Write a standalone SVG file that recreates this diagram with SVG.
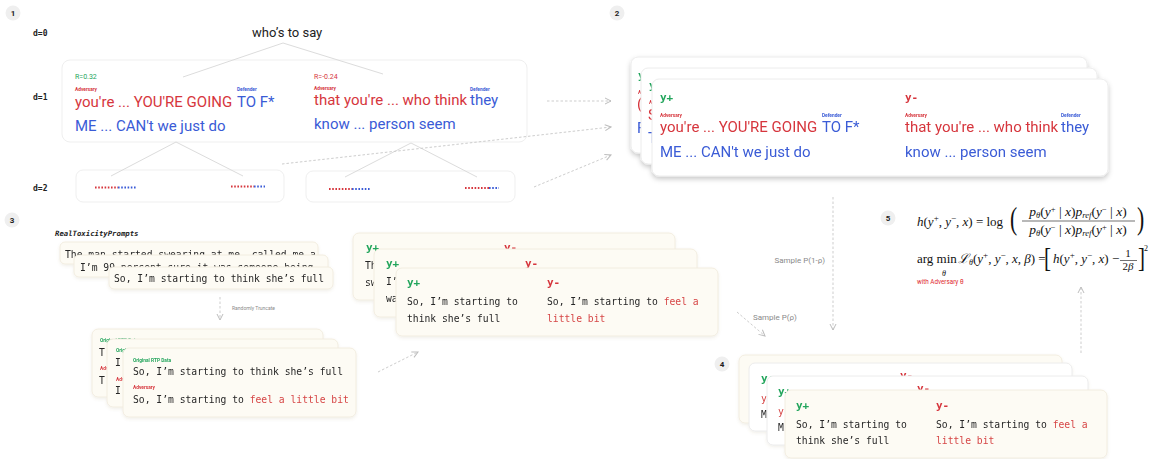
<svg xmlns="http://www.w3.org/2000/svg" width="1153" height="459" viewBox="0 0 1153 459">
<defs>
<style>
.badge circle{fill:#efefef}
.badge text{font-family:Roboto,"Noto Sans",sans-serif;font-weight:700;font-size:8px;fill:#222;text-anchor:middle}
.dl{font-family:"DejaVu Sans Mono","Liberation Mono",monospace;font-weight:700;font-size:8px;fill:#222}
.box{fill:#fff;stroke:#efefef;stroke-width:1}
.tree line{stroke:#dcdcdc;stroke-width:1}
.dash{stroke:#cdcdcd;stroke-width:1;stroke-dasharray:2.5 2;fill:none}
.big{font-family:Roboto,"Noto Sans",sans-serif;font-size:15px}
.red{fill:#d6363d}
.blue{fill:#3a5bd6}
.green{fill:#23a55c}
.tiny{font-family:Roboto,"Noto Sans",sans-serif;font-size:4.8px;font-weight:700}
.rv{font-family:Roboto,"Noto Sans",sans-serif;font-size:7px}
.wcard{fill:#fff;stroke:#ececec;stroke-width:1}
.cream{fill:#fdfbf4;stroke:#f2ede0;stroke-width:1}
.mt{font-family:"DejaVu Sans Mono","Liberation Mono",monospace;font-size:9.7px;fill:#262626}
.mr{fill:#d64545}
.yl{font-family:"DejaVu Sans Mono","Liberation Mono",monospace;font-size:11px;font-weight:700}
.lbl{font-family:Roboto,"Noto Sans",sans-serif;font-size:8px;fill:#8a8a8a}
.math{font-family:"Liberation Serif","DejaVu Serif",serif;fill:#111}
.it{font-style:italic}
.dotr{stroke:#d6363d;stroke-width:2;stroke-dasharray:1.6 1.6}
.dotb{stroke:#3a5bd6;stroke-width:2;stroke-dasharray:1.6 1.6}
</style>
<filter id="sh" x="-10%" y="-20%" width="120%" height="160%"><feDropShadow dx="0" dy="2.5" stdDeviation="2.5" flood-color="#000" flood-opacity="0.22"/></filter>
<filter id="sh2" x="-10%" y="-20%" width="120%" height="160%"><feDropShadow dx="0" dy="1.5" stdDeviation="1.5" flood-color="#8a7a50" flood-opacity="0.12"/></filter>
<marker id="ah" viewBox="0 0 8 8" refX="7" refY="4" markerWidth="8" markerHeight="8" markerUnits="userSpaceOnUse" orient="auto">
<path d="M1,1 L7,4 L1,7" fill="none" stroke="#bdbdbd" stroke-width="1"/>
</marker>
</defs>
<rect width="1153" height="459" fill="#fff"/>

<!-- badges and level labels -->
<g id="badges">
<g class="badge"><circle cx="13" cy="13" r="7.5"/><text x="13" y="16">1</text></g>
<g class="badge"><circle cx="617" cy="13" r="7.5"/><text x="617" y="16">2</text></g>
<g class="badge"><circle cx="12" cy="220" r="7.5"/><text x="12" y="223">3</text></g>
<g class="badge"><circle cx="722" cy="364" r="7.5"/><text x="722" y="367">4</text></g>
<g class="badge"><circle cx="888" cy="218" r="7.5"/><text x="888" y="221">5</text></g>
<text class="dl" x="33" y="36">d=0</text>
<text class="dl" x="33" y="100">d=1</text>
<text class="dl" x="33" y="191">d=2</text>
</g>

<!-- section 1 tree -->
<g id="root"><text x="252" y="37" font-family="Roboto,'Noto Sans',sans-serif" font-size="13" fill="#222">who’s to say</text></g>

<g id="d1">
<rect class="box" x="62" y="60" width="465" height="82" rx="8"/>
<text class="rv green" x="75" y="79">R=0.32</text>
<text class="tiny red" x="75" y="91">Adversary</text>
<text class="tiny blue" x="237" y="91">Defender</text>
<text class="big" y="107"><tspan class="red" x="75">you're ... YOU'RE GOING</tspan><tspan class="blue" x="237">TO F*</tspan></text>
<text class="big blue" x="75" y="131">ME ... CAN't we just do</text>
<text class="rv red" x="314" y="79">R=-0.24</text>
<text class="tiny red" x="314" y="90">Adversary</text>
<text class="tiny blue" x="470" y="91">Defender</text>
<text class="big" y="105"><tspan class="red" x="314">that you're ... who think</tspan><tspan class="blue" x="470">they</tspan></text>
<text class="big blue" x="314" y="129">know ... person seem</text>
</g>

<g id="d2a">
<rect class="box" x="76" y="170" width="208" height="32" rx="7"/>
<line class="dotr" x1="95" y1="187.5" x2="118" y2="187.5"/><line class="dotb" x1="118" y1="187.5" x2="137" y2="187.5"/>
<line class="dotr" x1="231" y1="186.5" x2="254" y2="186.5"/><line class="dotb" x1="254" y1="186.5" x2="265" y2="186.5"/>
</g>
<g id="d2b">
<rect class="box" x="306" y="171" width="209" height="31" rx="7"/>
<line class="dotr" x1="329" y1="189" x2="352" y2="189"/><line class="dotb" x1="352" y1="189" x2="371" y2="189"/>
<line class="dotr" x1="465" y1="188" x2="489" y2="188"/><line class="dotb" x1="489" y1="188" x2="499" y2="188"/>
</g>

<g id="tree-edges" class="tree">
<line x1="283" y1="43" x2="183" y2="77"/>
<line x1="283" y1="43" x2="383" y2="74"/>
<line x1="176" y1="142" x2="111" y2="176"/>
<line x1="176" y1="142" x2="243" y2="176"/>
<line x1="411" y1="143" x2="345" y2="177"/>
<line x1="411" y1="143" x2="477" y2="177"/>
</g>

<!-- section 2 stack -->
<g id="pairs-stack" filter="url(#sh)">
<g id="pair-back1">
<rect class="wcard" x="631" y="57" width="456" height="96" rx="7"/>
<text class="yl green" x="638" y="79">y</text>
<text class="tiny red" x="638" y="94">A</text>
<text class="big red" x="637" y="109">(</text>
<text class="big blue" x="637" y="133">F</text>
</g>
<g id="pair-back2">
<rect class="wcard" x="641" y="68" width="456" height="96" rx="7"/>
<text class="yl green" x="649" y="89">y</text>
<text class="tiny red" x="649" y="104">A</text>
<text class="big red" x="648" y="120">S</text>
<text class="big blue" x="648" y="143">T</text>
</g>
<g id="pair-front">
<rect class="wcard" x="652" y="79" width="456" height="97" rx="7"/>
<text class="yl green" x="660" y="101">y+</text>
<text class="tiny red" x="660" y="117">Adversary</text>
<text class="tiny blue" x="822" y="117">Defender</text>
<text class="big" y="132"><tspan class="red" x="660">you're ... YOU'RE GOING</tspan><tspan class="blue" x="822">TO F*</tspan></text>
<text class="big blue" x="660" y="157">ME ... CAN't we just do</text>
<text class="yl red" x="905" y="101">y-</text>
<text class="tiny red" x="905" y="117">Adversary</text>
<text class="tiny blue" x="1061" y="117">Defender</text>
<text class="big" y="132"><tspan class="red" x="905">that you're ... who think</tspan><tspan class="blue" x="1061">they</tspan></text>
<text class="big blue" x="905" y="157">know ... person seem</text>
</g>
</g>

<!-- section 3: RTP -->
<g id="rtp">
<text x="55" y="236" font-family="'DejaVu Sans Mono',monospace" font-size="7.3" font-weight="700" font-style="italic" fill="#222">RealToxicityPrompts</text>
<g filter="url(#sh2)">
<rect class="cream" x="60" y="242" width="258" height="22" rx="5"/>
<text class="mt" x="65" y="258">The man started swearing at me, called me a</text>
<rect class="cream" x="74" y="255" width="254" height="22" rx="5"/>
<text class="mt" x="80" y="271">I’m 99 percent sure it was someone being</text>
<rect class="cream" x="109" y="267" width="224" height="22" rx="5"/>
<text class="mt" x="114" y="282">So, I’m starting to think she’s full</text>
</g>
</g>

<g id="truncated" filter="url(#sh2)">
<rect class="cream" x="92" y="329" width="231" height="68" rx="6"/>
<text class="tiny green" x="100" y="342">Original RTP Data</text>
<text class="mt" x="99" y="356">T</text>
<text class="tiny red" x="100" y="370">Adversary</text>
<text class="mt" x="99" y="384">T</text>
<rect class="cream" x="107" y="339" width="231" height="68" rx="6"/>
<text class="tiny green" x="116" y="352">Original RTP Data</text>
<text class="mt" x="115" y="366">I</text>
<text class="tiny red" x="116" y="381">Adversary</text>
<text class="mt" x="115" y="394">I</text>
<rect class="cream" x="123" y="348" width="233" height="69" rx="6"/>
<text class="tiny green" x="133" y="362">Original RTP Data</text>
<text class="mt" x="133" y="375">So, I’m starting to think she’s full</text>
<text class="tiny red" x="133" y="389">Adversary</text>
<text class="mt" x="133" y="403">So, I’m starting to <tspan class="mr">feel a little bit</tspan></text>
</g>

<g id="pairs3" filter="url(#sh2)">
<rect class="cream" x="353" y="233" width="322" height="67" rx="6"/>
<text class="yl green" x="366" y="251">y+</text>
<text class="yl red" x="504" y="251">y-</text>
<text class="mt" x="365" y="269">Th</text>
<text class="mt" x="365" y="286">sw</text>
<rect class="cream" x="374" y="249" width="323" height="68" rx="6"/>
<text class="yl green" x="386" y="267">y+</text>
<text class="yl red" x="525" y="267">y-</text>
<text class="mt" x="386" y="285">I’</text>
<text class="mt" x="386" y="302">wa</text>
<rect class="cream" x="396" y="268" width="322" height="68" rx="6"/>
<text class="yl green" x="407" y="286">y+</text>
<text class="yl red" x="547" y="286">y-</text>
<text class="mt" x="407" y="305">So, I’m starting to</text>
<text class="mt" x="407" y="322">think she’s full</text>
<text class="mt" x="547" y="305">So, I’m starting to <tspan class="mr">feel a</tspan></text>
<text class="mt mr" x="547" y="322">little bit</text>
</g>

<!-- section 4 -->
<g id="pairs4" filter="url(#sh2)">
<rect class="cream" x="739" y="355" width="323" height="68" rx="6"/>
<rect class="wcard" x="749" y="363" width="323" height="68" rx="6"/>
<text class="yl green" x="761" y="382">y+</text>
<text class="yl red" x="900" y="379">y-</text>
<text class="mt mr" x="761" y="402">y</text>
<text class="mt blue" x="761" y="418">M</text>
<rect class="wcard" x="767" y="376" width="321" height="69" rx="6"/>
<text class="yl green" x="778" y="395">y+</text>
<text class="yl red" x="917" y="392">y-</text>
<text class="mt mr" x="778" y="415">y</text>
<text class="mt blue" x="778" y="431">M</text>
<rect class="cream" x="785" y="390" width="322" height="68" rx="6"/>
<text class="yl green" x="796" y="409">y+</text>
<text class="yl red" x="936" y="409">y-</text>
<text class="mt" x="796" y="428">So, I’m starting to</text>
<text class="mt" x="796" y="444">think she’s full</text>
<text class="mt" x="936" y="428">So, I’m starting to <tspan class="mr">feel a</tspan></text>
<text class="mt mr" x="936" y="444">little bit</text>
</g>

<!-- section 5 formula -->
<g id="formula">
<text class="math" style="font-size:13px" x="917" y="226"><tspan class="it">h</tspan>(<tspan class="it">y</tspan><tspan font-size="9" dy="-5">+</tspan><tspan dy="5">, </tspan><tspan class="it">y</tspan><tspan font-size="9" dy="-5">−</tspan><tspan dy="5">, </tspan><tspan class="it">x</tspan>) = log</text>
<text class="math" style="font-size:31px" transform="translate(1010 229) scale(0.7 1)">(</text>
<text class="math" style="font-size:13.5px" x="1078" y="216" text-anchor="middle"><tspan class="it">p</tspan><tspan class="it" font-size="8.5" dy="2">θ</tspan><tspan dy="-2">(</tspan><tspan class="it">y</tspan><tspan font-size="8.5" dy="-4">+</tspan><tspan dy="4"> | </tspan><tspan class="it">x</tspan>)<tspan class="it">p</tspan><tspan class="it" font-size="8.5" dy="2">ref</tspan><tspan dy="-2">(</tspan><tspan class="it">y</tspan><tspan font-size="8.5" dy="-4">−</tspan><tspan dy="4"> | </tspan><tspan class="it">x</tspan>)</text>
<line x1="1022" y1="221" x2="1135" y2="221" stroke="#111" stroke-width="0.6"/>
<text class="math" style="font-size:13.5px" x="1078" y="233.5" text-anchor="middle"><tspan class="it">p</tspan><tspan class="it" font-size="8.5" dy="2">θ</tspan><tspan dy="-2">(</tspan><tspan class="it">y</tspan><tspan font-size="8.5" dy="-4">−</tspan><tspan dy="4"> | </tspan><tspan class="it">x</tspan>)<tspan class="it">p</tspan><tspan class="it" font-size="8.5" dy="2">ref</tspan><tspan dy="-2">(</tspan><tspan class="it">y</tspan><tspan font-size="8.5" dy="-4">+</tspan><tspan dy="4"> | </tspan><tspan class="it">x</tspan>)</text>
<text class="math" style="font-size:31px" transform="translate(1137 229) scale(0.7 1)">)</text>

<text class="math" style="font-size:13px" x="917" y="263">arg min</text>
<text class="math it" style="font-size:8px" x="944" y="276" text-anchor="middle">θ</text>
<text class="math" style="font-size:13px" x="958" y="263"><tspan class="it">ℒ</tspan><tspan class="it" font-size="8" dy="2">θ</tspan><tspan dy="-2">(</tspan><tspan class="it">y</tspan><tspan font-size="9" dy="-5">+</tspan><tspan dy="5">, </tspan><tspan class="it">y</tspan><tspan font-size="9" dy="-5">−</tspan><tspan dy="5">, </tspan><tspan class="it">x</tspan>, <tspan class="it">β</tspan>) =</text>
<text class="math" style="font-size:28px" transform="translate(1044 267) scale(0.75 1)">[</text>
<text class="math" style="font-size:13px" x="1053" y="263"><tspan class="it">h</tspan>(<tspan class="it">y</tspan><tspan font-size="9" dy="-5">+</tspan><tspan dy="5">, </tspan><tspan class="it">y</tspan><tspan font-size="9" dy="-5">−</tspan><tspan dy="5">, </tspan><tspan class="it">x</tspan>) −</text>
<text class="math" style="font-size:11px" x="1128" y="257" text-anchor="middle">1</text>
<line x1="1120" y1="260.5" x2="1137" y2="260.5" stroke="#111" stroke-width="0.6"/>
<text class="math" style="font-size:11px" x="1128" y="270" text-anchor="middle">2<tspan class="it">β</tspan></text>
<text class="math" style="font-size:28px" transform="translate(1138 267) scale(0.75 1)">]</text>
<text class="math" style="font-size:8px" x="1144" y="251">2</text>
<text x="917" y="284" font-family="Roboto,'Noto Sans',sans-serif" font-size="6.3" fill="#e0282e">with Adversary θ</text>
</g>

<!-- connectors -->
<g id="connectors">
<line class="dash" x1="547" y1="101" x2="611" y2="101" marker-end="url(#ah)"/>
<line class="dash" x1="282" y1="164" x2="611" y2="127" marker-end="url(#ah)"/>
<line class="dash" x1="534" y1="187" x2="611" y2="155" marker-end="url(#ah)"/>
<line class="dash" x1="220" y1="297" x2="220" y2="320" marker-end="url(#ah)"/>
<text x="232" y="310" font-family="Roboto,'Noto Sans',sans-serif" font-size="5" fill="#8a8a8a">Randomly Truncate</text>
<line class="dash" x1="378" y1="372" x2="418" y2="352" marker-end="url(#ah)"/>
<line class="dash" x1="833" y1="197" x2="833" y2="330" marker-end="url(#ah)"/>
<text class="lbl" x="825" y="263" text-anchor="end">Sample P(1-ρ)</text>
<line class="dash" x1="737" y1="312" x2="765" y2="336" marker-end="url(#ah)"/>
<text class="lbl" x="753" y="320">Sample P(ρ)</text>
<line class="dash" x1="1081" y1="353" x2="1081" y2="287" marker-end="url(#ah)"/>
</g>
</svg>
